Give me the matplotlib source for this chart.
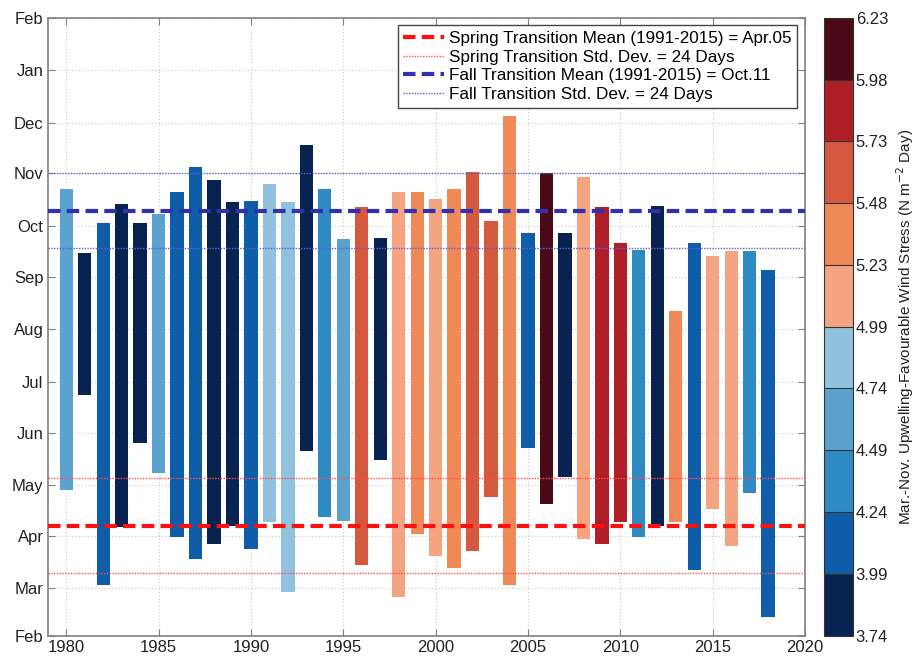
import matplotlib
matplotlib.use('Agg')
import matplotlib.pyplot as plt
from matplotlib.colors import ListedColormap, BoundaryNorm
from matplotlib.lines import Line2D
import matplotlib as mpl

plt.rcParams['font.family'] = ['Liberation Sans', 'DejaVu Sans']

# years and transition dates (day of year; Jan of next year = 366+)
years = list(range(1980, 2019))
spring_doy = [118, 174, 62, 96, 146, 128, 90, 77, 86, 97, 83, 99, 58,
              141, 102, 100, 74, 136, 55, 92, 79, 72, 82, 114, 62, 143,
              110, 126, 89, 86, 99, 90, 97, 99, 71, 107, 85, 116, 43]
fall_doy = [296, 258, 276, 287, 276, 281, 294, 309, 301, 288, 289, 299, 288,
            322, 296, 266, 285, 267, 294, 294, 290, 296, 306, 277, 339, 270,
            305, 270, 303, 285, 264, 260, 286, 224, 264, 256, 259, 259, 248]
# Mar.-Nov. upwelling-favourable wind stress (estimated)
wind_stress = [4.61, 3.86, 4.11, 3.86, 3.86, 4.61, 4.11, 4.11, 3.86, 3.86,
               4.11, 4.86, 4.86, 3.86, 4.36, 4.61, 5.60, 3.86, 5.11, 5.35,
               5.11, 5.35, 5.60, 5.60, 5.35, 4.11, 6.10, 3.86, 5.11, 5.85,
               5.85, 4.36, 3.86, 5.35, 4.11, 5.11, 5.11, 4.36, 4.11]

spring_mean = 97
spring_std_lines = [69, 125]
fall_mean = 283
fall_std_lines = [261, 305]

month_doy = [32, 60, 91, 121, 152, 182, 213, 244, 274, 305, 335, 366, 397]
month_labels = ['Feb', 'Mar', 'Apr', 'May', 'Jun', 'Jul', 'Aug', 'Sep',
                'Oct', 'Nov', 'Dec', 'Jan', 'Feb']

bounds = [3.74, 3.99, 4.24, 4.49, 4.74, 4.99, 5.23, 5.48, 5.73, 5.98, 6.23]
cb_colors = ['#08234f', '#0f5ca8', '#2f8ac3', '#5ba2cf', '#90c2de',
             '#f4a481', '#ef8957', '#d6583f', '#b01e27', '#4c0a18']

cmap = ListedColormap(cb_colors)
norm = BoundaryNorm(bounds, cmap.N)

fig = plt.figure(figsize=(9.19, 6.56), dpi=100)
ax = fig.add_axes([0.052, 0.031, 0.824, 0.942])
cax = fig.add_axes([0.8966, 0.031, 0.0316, 0.942])

heights = [f - s for s, f in zip(spring_doy, fall_doy)]
ax.bar(years, heights, bottom=spring_doy, width=0.72,
       color=[cmap(norm(v)) for v in wind_stress], zorder=2)

for y in spring_std_lines:
    ax.axhline(y, color='#ff5050', ls=(0, (1, 1)), lw=1.0, zorder=3)
for y in fall_std_lines:
    ax.axhline(y, color='#6060d0', ls=(0, (1, 1)), lw=1.0, zorder=3)
ax.axhline(spring_mean, color='#ff1010', ls=(0, (3, 1.5)), lw=3, zorder=4)
ax.axhline(fall_mean, color='#3030b0', ls=(0, (3, 1.5)), lw=3, zorder=4)

ax.set_xlim(1979, 2020)
ax.set_ylim(32, 397)
ax.set_xticks(range(1980, 2021, 5))
ax.set_yticks(month_doy)
ax.set_yticklabels(month_labels)
ax.grid(True, color='#c8c8c8', ls=(0, (1, 2)), lw=0.8, zorder=0)
ax.set_axisbelow(True)
ax.tick_params(direction='in', top=True, right=True, length=5,
               labelsize=12, colors='#808080', labelcolor='#222222', pad=3)
for s in ax.spines.values():
    s.set_color('#808080')
    s.set_linewidth(1.2)

handles = [
    Line2D([], [], color='#ff1010', ls=(0, (3, 1.5)), lw=3),
    Line2D([], [], color='#ff5050', ls=(0, (1, 1)), lw=1),
    Line2D([], [], color='#3030b0', ls=(0, (3, 1.5)), lw=3),
    Line2D([], [], color='#6060d0', ls=(0, (1, 1)), lw=1),
]
labels = ['Spring Transition Mean (1991-2015) = Apr.05',
          'Spring Transition Std. Dev. = 24 Days',
          'Fall Transition Mean (1991-2015) = Oct.11',
          'Fall Transition Std. Dev. = 24 Days']
leg = ax.legend(handles, labels, loc='upper right', fontsize=12.3,
                fancybox=False, framealpha=1, edgecolor='#444444',
                handlelength=2.4, handletextpad=0.3, labelspacing=0.22,
                borderpad=0.32, borderaxespad=0.45)
leg.get_frame().set_linewidth(1.0)
leg.set_zorder(5)

cb = mpl.colorbar.ColorbarBase(cax, cmap=cmap, norm=norm, boundaries=bounds,
                               ticks=bounds, drawedges=True)
cb.dividers.set_color('#333333')
cb.dividers.set_linewidth(0.8)
cb.outline.set_edgecolor('#333333')
cb.ax.set_yticklabels(['%.2f' % b for b in bounds])
cb.ax.tick_params(length=0, labelsize=12, labelcolor='#222222', pad=2)
cb.set_label('Mar.-Nov. Upwelling-Favourable Wind Stress (N m$^{-2}$ Day)',
             fontsize=11, color='#222222', labelpad=4)

fig.savefig('out.png', dpi=100)
